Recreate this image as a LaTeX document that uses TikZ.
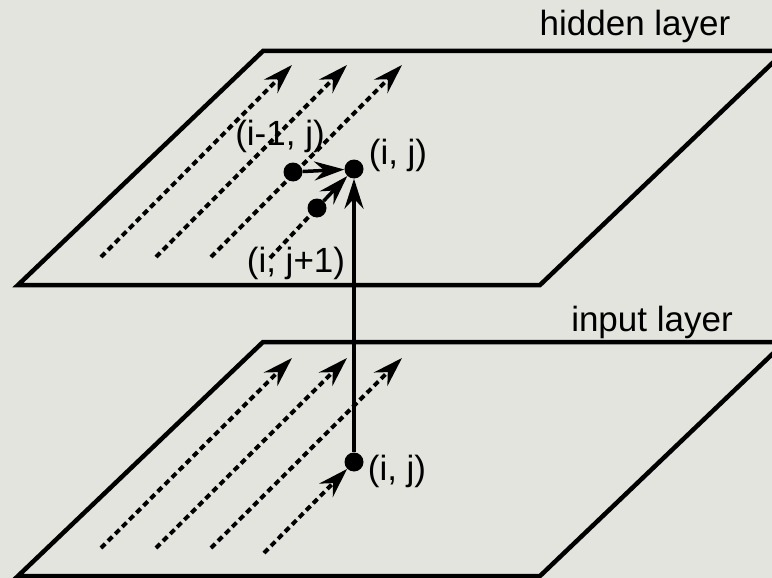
\documentclass[tikz,border=0pt]{standalone}
\usepackage{fontspec}
\setmainfont{Liberation Sans}
\usepackage{xcolor}
\usetikzlibrary{arrows.meta, positioning, calc}
\definecolor{slidegray}{RGB}{228, 228, 222}

\tikzset{
    layeredge/.style={line width=4.5pt, line join=miter},
    unitdot/.style={circle, fill=black, inner sep=0pt, minimum size=19pt},
    flowarrow/.style={line width=3.5pt, -{Stealth[length=30pt, width=19pt, inset=10pt]}},
    scanline/.style={line width=4pt, dash pattern=on 6pt off 4pt},
    scanarrow/.style={flowarrow, line width=4pt, dash pattern=on 6pt off 4pt},
    unitlabel/.style={font=\fontsize{35}{42}\selectfont, inner sep=0pt}
}

\begin{document}
\begin{tikzpicture}[x=1pt, y=-1pt]
    \fill[slidegray] (0,0) rectangle (772,578);
    \useasboundingbox (0,0) rectangle (772,578);
    \clip (0,0) rectangle (772,578);

    % the two layers
    \draw[layeredge] (18,285) -- (263,51) -- (785,51) -- (540,285) -- cycle;
    \draw[layeredge] (18,576) -- (263,342) -- (785,342) -- (540,576) -- cycle;
    \node[unitlabel] (hiddenlabel) at (635,26) {hidden layer};
    \node[unitlabel] (inputlabel) at (652,322) {input layer};

    % scan directions
    \foreach \s in {0,55,110} {
        \draw[scanarrow] (101+\s,257) -- (292+\s,65);
        \draw[scanarrow] (101+\s,548) -- (292+\s,358);
    }

    % units
    \node[unitdot] (hij) at (354,169) {};
    \node[unitdot] (hprev) at (293,172) {};
    \node[unitdot] (hnext) at (317,208) {};
    \node[unitdot] (xij) at (354,462) {};
    \coordinate (hscan) at (270,258);
    \coordinate (xscan) at (264,553);

    \node[unitlabel] (hijlabel) at (398,155) {(i, j)};
    \node[unitlabel] (hprevlabel) at (280,136) {(i-1, j)};
    \node[unitlabel] (hnextlabel) at (296,263) {(i, j+1)};
    \node[unitlabel] (xijlabel) at (397,471) {(i, j)};

    % connections
    \draw[scanline] (hscan) -- (hnext);
    \draw[scanarrow] (xscan) -- (xij);
    \draw[flowarrow] (hprev) -- (hij);
    \draw[flowarrow] (hnext) -- (hij);
    \draw[flowarrow] (xij) -- (hij);
\end{tikzpicture}
\end{document}
